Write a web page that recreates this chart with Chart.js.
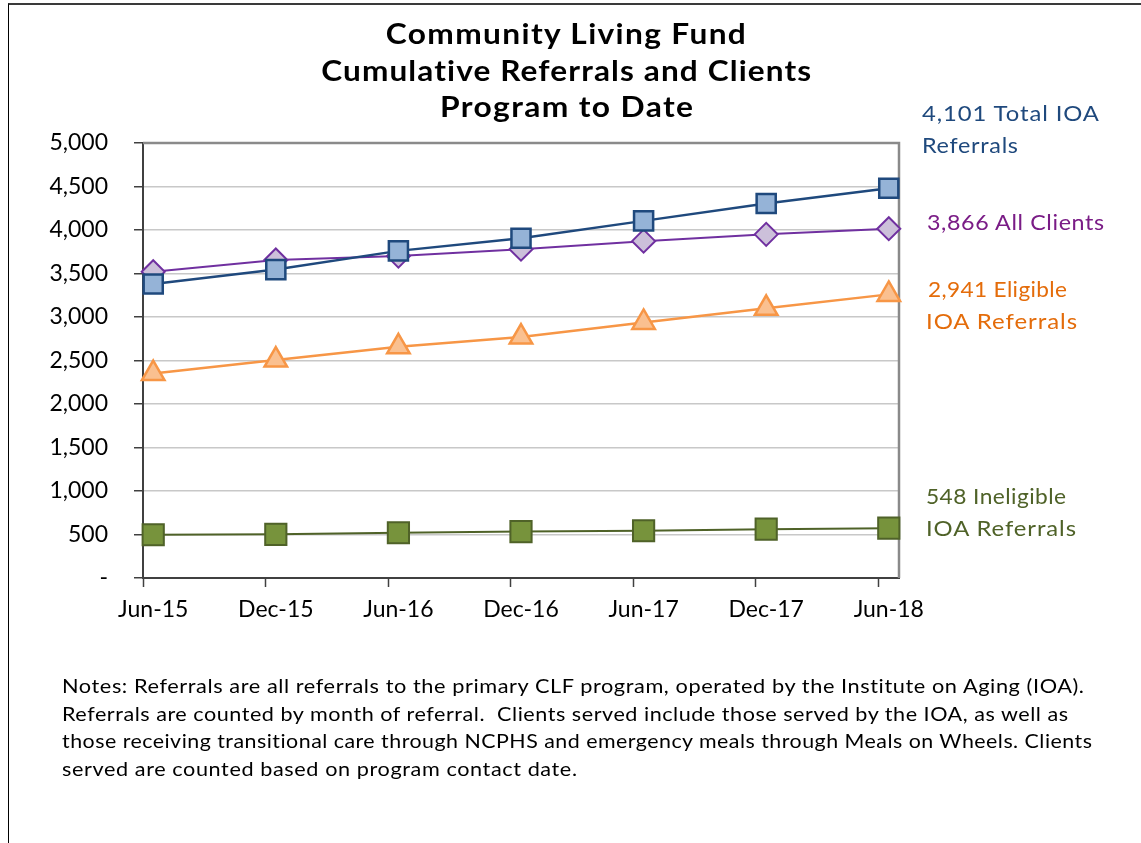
<!DOCTYPE html>
<html>
<head>
<meta charset="utf-8">
<script src="https://cdn.jsdelivr.net/npm/chart.js@4/dist/chart.umd.min.js"></script>
<style>
  html, body { margin: 0; padding: 0; background: #fff; }
  body { width: 1141px; height: 843px; position: relative; overflow: hidden; font-family: "Lato", "Open Sans", sans-serif; }
  #frame { position: absolute; left: 8px; top: 3px; width: 1140px; height: 850px; border-left: 1.5px solid #000; border-top: 2.5px solid #3a3a3a; }
  #wrap { position: absolute; left: 0; top: 0; width: 1141px; height: 843px; }
  .t { position: absolute; white-space: nowrap; }
  .t > div { white-space: nowrap; }
  .t span { display: inline-block; transform-origin: 0 50%; }
  #title span { transform-origin: 50% 50%; }
  #title { left: 267px; width: 600px; top: 15px; text-align: center; font-weight: bold; font-size: 28.5px; line-height: 36.5px; color: #000; }
  .lab { font-size: 21.5px; line-height: 32px; }
  #notes { left: 62px; top: 672px; font-size: 20px; line-height: 27.5px; color: #000; }
</style>
</head>
<body>
<div id="frame"></div>
<div id="wrap"><canvas id="c" width="1141" height="843"></canvas></div>
<div class="t" id="title">
  <div><span data-w="360">Community Living Fund</span></div>
  <div><span data-w="490">Cumulative Referrals and Clients</span></div>
  <div><span data-w="253">Program to Date</span></div>
</div>
<div class="t lab" style="left:922px;top:97px;color:#1F497D;">
  <div><span data-w="177">4,101 Total IOA</span></div>
  <div><span data-w="96">Referrals</span></div>
</div>
<div class="t lab" style="left:927px;top:206px;color:#7A1C86;">
  <div><span data-w="177">3,866 All Clients</span></div>
</div>
<div class="t lab" style="left:928px;top:273px;color:#E46C0A;">
  <div><span data-w="139">2,941 Eligible</span></div>
  <div style="margin-left:-2px"><span data-w="151">IOA Referrals</span></div>
</div>
<div class="t lab" style="left:926px;top:480px;color:#4F6228;">
  <div><span data-w="140">548 Ineligible</span></div>
  <div><span data-w="150">IOA Referrals</span></div>
</div>
<div class="t" id="notes">
  <div><span data-w="1022">Notes: Referrals are all referrals to the primary CLF program, operated by the Institute on Aging (IOA).</span></div>
  <div><span data-w="1006">Referrals are counted by month of referral.&nbsp; Clients served include those served by the IOA, as well as</span></div>
  <div><span data-w="1030">those receiving transitional care through NCPHS and emergency meals through Meals on Wheels. Clients</span></div>
  <div><span data-w="515">served are counted based on program contact date.</span></div>
</div>
<script>
// Categories (6-month steps) and monthly slot count between them
const categories = ['Jun-15', 'Dec-15', 'Jun-16', 'Dec-16', 'Jun-17', 'Dec-17', 'Jun-18'];
const monthsBetween = 6;

// Series values
const totalReferrals      = [3380, 3545, 3760, 3905, 4105, 4305, 4480];
const allClients          = [3520, 3655, 3700, 3780, 3872, 3950, 4015];
const eligibleReferrals   = [2350, 2505, 2658, 2770, 2938, 3100, 3260];
const ineligibleReferrals = [497, 502, 520, 534, 543, 561, 573];

// Y axis ticks
const yTicks = [0, 500, 1000, 1500, 2000, 2500, 3000, 3500, 4000, 4500, 5000];

// Fit text widths to the reference's wider typeface: part letter-spacing, part horizontal scale
document.querySelectorAll('span[data-w]').forEach(s => {
  const target = +s.dataset.w;
  const w0 = s.getBoundingClientRect().width;
  const n = s.textContent.length;
  const extra = target - w0;
  if (n > 1) s.style.letterSpacing = (extra * 0.4 / (n - 1)).toFixed(3) + 'px';
  const w1 = s.getBoundingClientRect().width - extra * 0.4 / (n - 1);
  s.style.transform = 'scaleX(' + (target / w1).toFixed(4) + ')';
});

// Monthly slot labels (blank between named categories)
const monthSlots = [];
categories.forEach((c, i) => {
  monthSlots.push(c);
  if (i < categories.length - 1) for (let k = 1; k < monthsBetween; k++) monthSlots.push(' '.repeat(k) + '\u200b' + i);
});
const slotLabel = v => { const l = monthSlots[v]; return categories.includes(l) ? l : ''; };
const toPoints = arr => arr.map((v, i) => ({ x: categories[i], y: v }));

const plotBorder = {
  id: 'plotBorder',
  beforeDatasetsDraw(chart) {
    const a = chart.chartArea, ctx = chart.ctx;
    ctx.save();
    ctx.strokeStyle = '#8a8a8a';
    ctx.lineWidth = 2.5;
    ctx.beginPath();
    ctx.moveTo(a.left, a.top);
    ctx.lineTo(a.right, a.top);
    ctx.lineTo(a.right, a.bottom);
    ctx.stroke();
    ctx.restore();
  }
};

new Chart(document.getElementById('c'), {
  type: 'line',
  data: {
    labels: monthSlots,
    datasets: [
      { label: 'Total IOA Referrals', data: toPoints(totalReferrals), borderColor: '#1F497D', borderWidth: 2.5,
        pointStyle: 'rect', pointRadius: 13.5, pointBackgroundColor: '#95B3D7', pointBorderColor: '#1F497D', pointBorderWidth: 2.5 },
      { label: 'All Clients', data: toPoints(allClients), borderColor: '#7030A0', borderWidth: 2,
        pointStyle: 'rectRot', pointRadius: 11.5, pointBackgroundColor: '#CCC0DA', pointBorderColor: '#7030A0', pointBorderWidth: 2 },
      { label: 'Eligible IOA Referrals', data: toPoints(eligibleReferrals), borderColor: '#F79646', borderWidth: 2.5,
        pointStyle: 'triangle', pointRadius: 13, pointBackgroundColor: '#FAC090', pointBorderColor: '#F79646', pointBorderWidth: 2.5 },
      { label: 'Ineligible IOA Referrals', data: toPoints(ineligibleReferrals), borderColor: '#4F6228', borderWidth: 2,
        pointStyle: 'rect', pointRadius: 15, pointBackgroundColor: '#77933C', pointBorderColor: '#4F6228', pointBorderWidth: 2 }
    ]
  },
  options: {
    responsive: false,
    animation: false,
    events: [],
    layout: { padding: { left: 0, top: 143, right: 242, bottom: 205 } },
    plugins: { legend: { display: false }, title: { display: false }, tooltip: { enabled: false } },
    elements: { line: { tension: 0 } },
    scales: {
      x: {
        type: 'category',
        offset: true,
        afterFit: s => { s.height = 60; },
        border: { display: true, color: '#404040', width: 2 },
        grid: {
          offset: true, drawOnChartArea: false, drawTicks: true, tickLength: 9, tickWidth: 1.5,
          tickColor: ctx => (ctx.index % monthsBetween === 0 ? '#404040' : 'rgba(0,0,0,0)')
        },
        ticks: {
          autoSkip: false, maxRotation: 0, minRotation: 0, padding: 9, color: '#000',
          font: { family: 'Lato', size: 23 },
          callback: v => slotLabel(v)
        }
      },
      y: {
        min: 0, max: 5000,
        afterFit: s => { s.width = 143; },
        afterBuildTicks: s => { s.ticks = yTicks.map(v => ({ value: v })); },
        border: { display: true, color: '#404040', width: 2 },
        grid: { color: '#C8C8C8', lineWidth: 1.5, tickLength: 9, tickColor: '#404040', tickWidth: 1.5 },
        ticks: {
          padding: 26, color: '#000', font: { family: 'Lato', size: 23 },
          callback: v => (v === 0 ? '-' : v.toLocaleString('en-US'))
        }
      }
    }
  },
  plugins: [plotBorder]
});
</script>
</body>
</html>
